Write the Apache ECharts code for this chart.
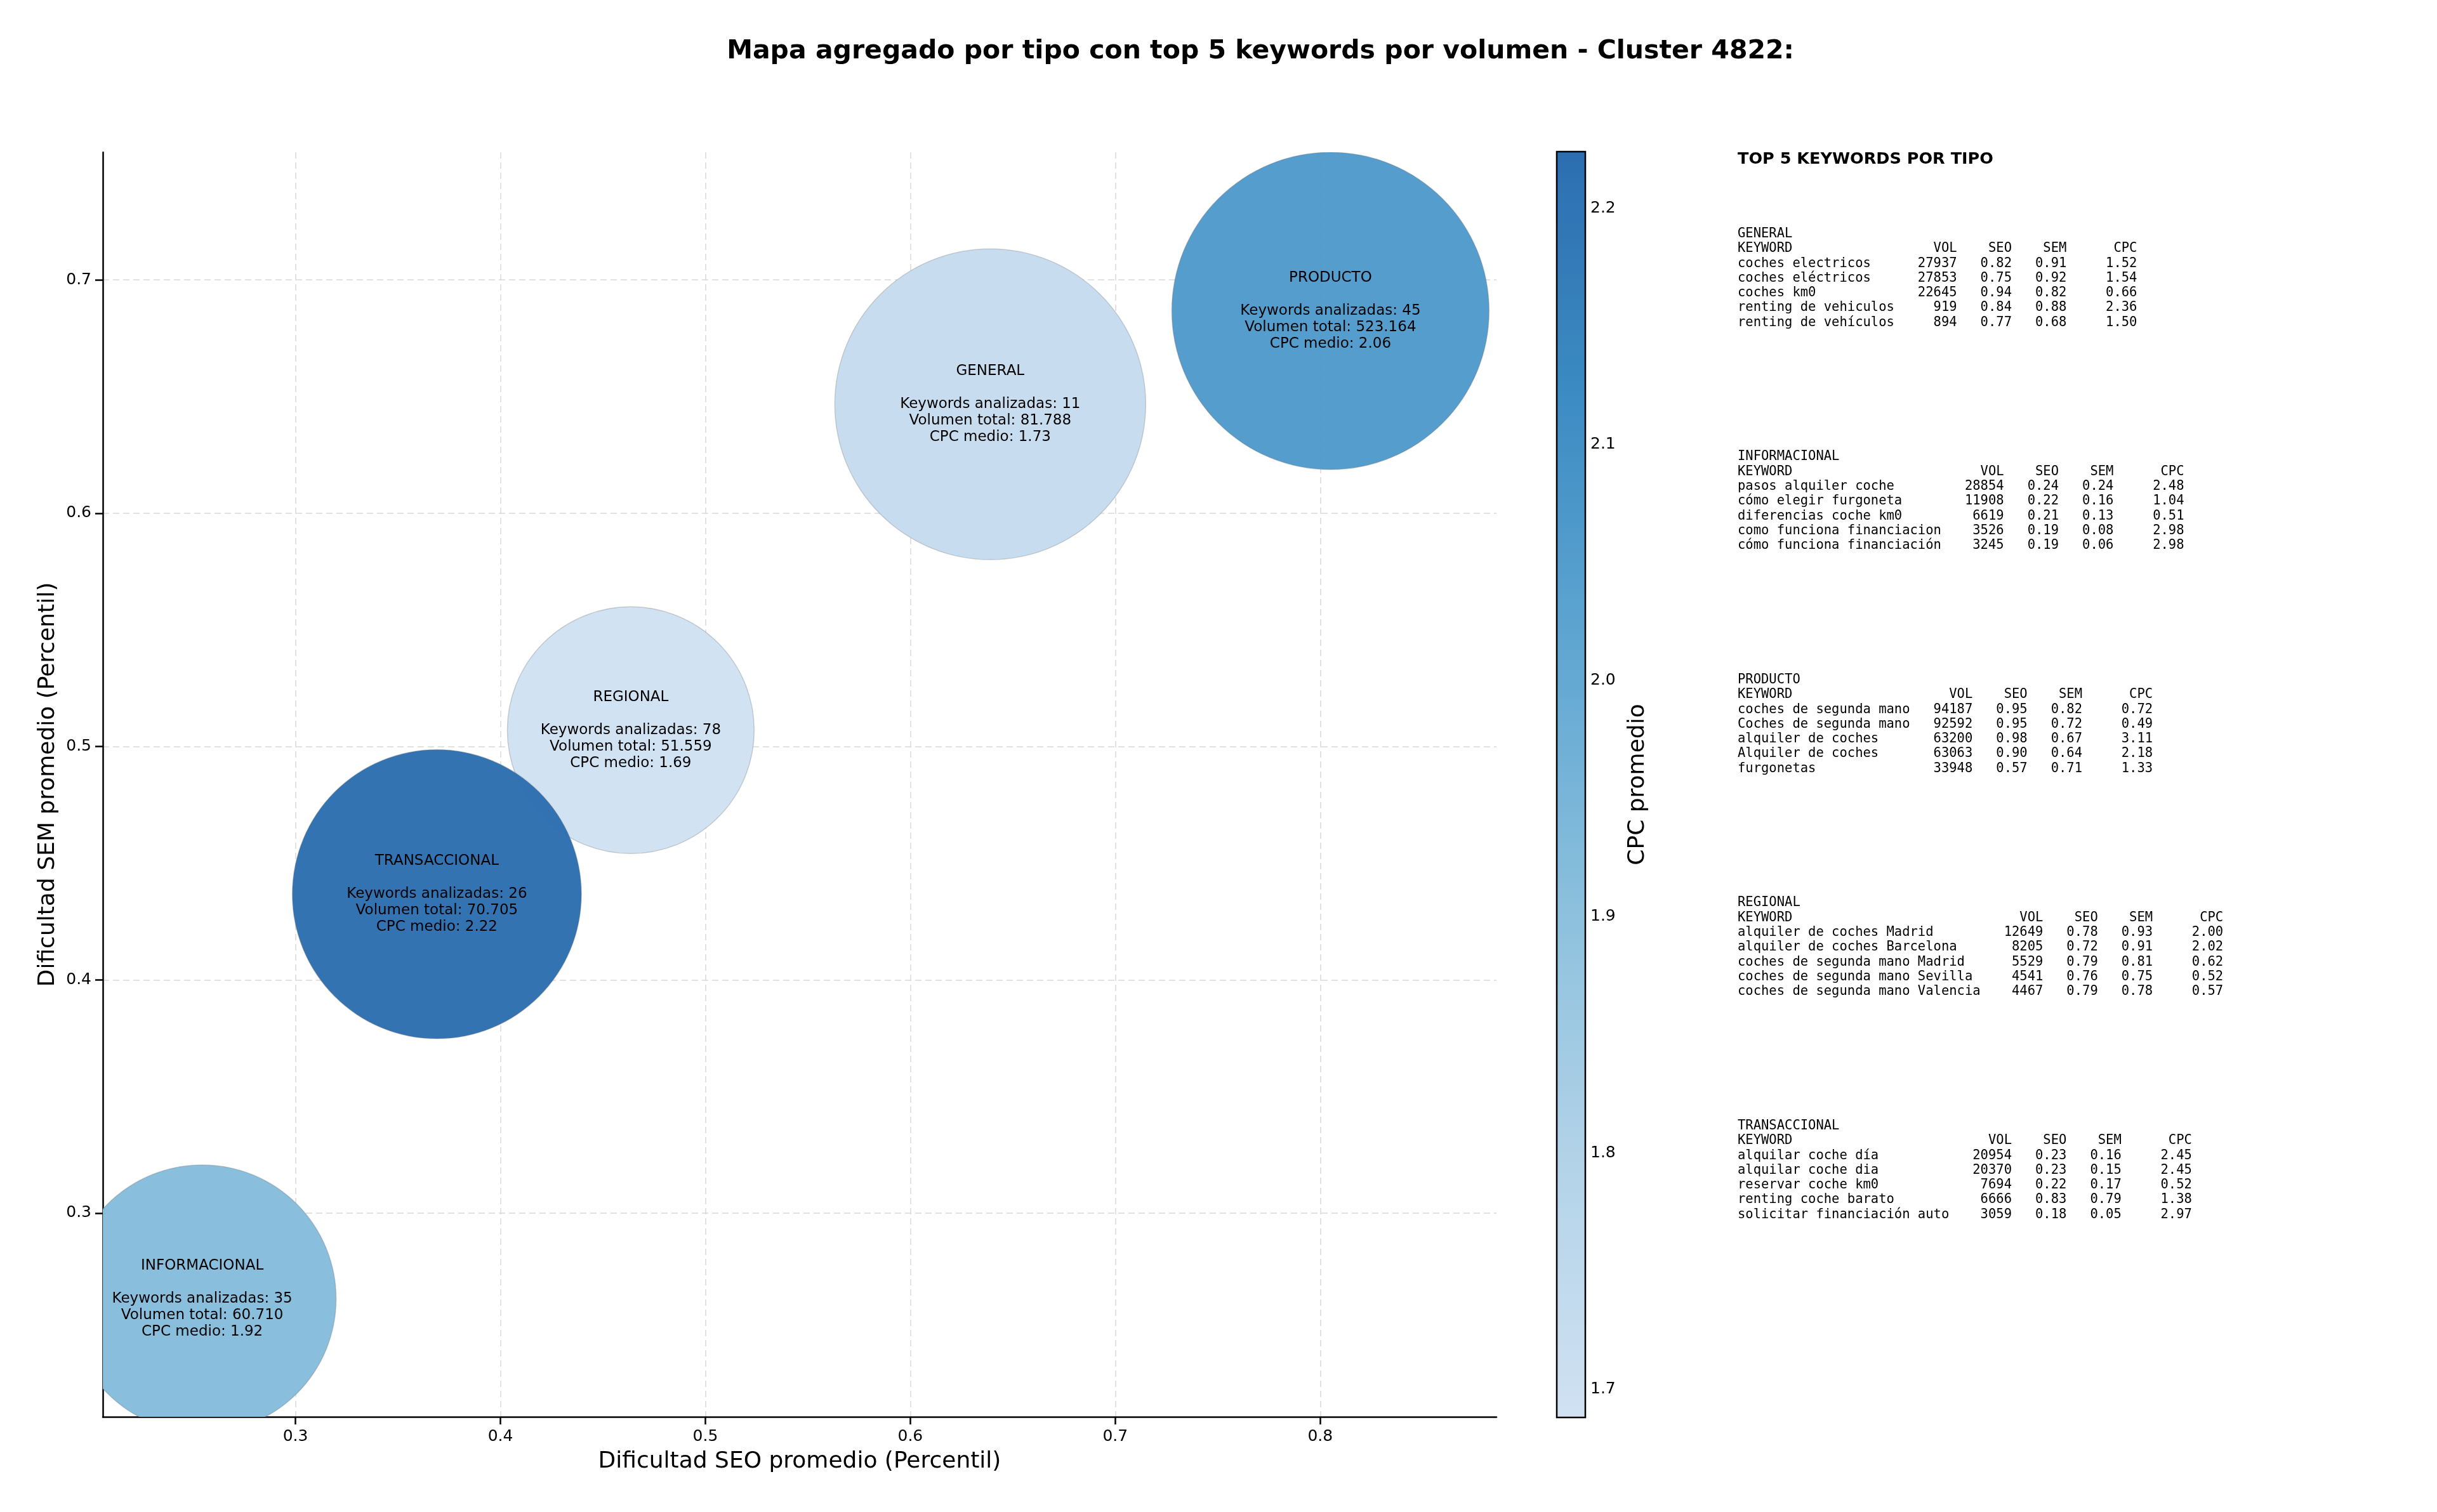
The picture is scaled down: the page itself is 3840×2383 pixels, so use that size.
<!DOCTYPE html>
<html>
<head>
<meta charset="utf-8">
<script src="https://cdn.jsdelivr.net/npm/echarts@6/dist/echarts.min.js"></script>
<style>
  html, body { margin: 0; padding: 0; background: #fff; }
  #master { width: 3840px; height: 2383px; }
</style>
</head>
<body>
<div id="master"></div>
<script>
// datos agregados por tipo
const tipos = ['GENERAL', 'INFORMACIONAL', 'PRODUCTO', 'REGIONAL', 'TRANSACCIONAL'];
const seoMedio = [0.639, 0.2545, 0.805, 0.4636, 0.369];
const semMedio = [0.6467, 0.2633, 0.6867, 0.507, 0.4367];
const cpcMedio = [1.73, 1.92, 2.06, 1.688, 2.224];
const volTotal = [81788, 60710, 523164, 51559, 70705];
const numKeywords = [11, 35, 45, 78, 26];

const xTicks = [0.3, 0.4, 0.5, 0.6, 0.7, 0.8];
const yTicks = [0.3, 0.4, 0.5, 0.6, 0.7];
const cpcTicks = [1.7, 1.8, 1.9, 2.0, 2.1, 2.2];

// top 5 keywords: [keyword, vol, seo, sem, cpc]
const topGeneral = [
  ['coches electricos', 27937, 0.82, 0.91, 1.52],
  ['coches eléctricos', 27853, 0.75, 0.92, 1.54],
  ['coches km0', 22645, 0.94, 0.82, 0.66],
  ['renting de vehiculos', 919, 0.84, 0.88, 2.36],
  ['renting de vehículos', 894, 0.77, 0.68, 1.50]
];
const topInformacional = [
  ['pasos alquiler coche', 28854, 0.24, 0.24, 2.48],
  ['cómo elegir furgoneta', 11908, 0.22, 0.16, 1.04],
  ['diferencias coche km0', 6619, 0.21, 0.13, 0.51],
  ['como funciona financiacion', 3526, 0.19, 0.08, 2.98],
  ['cómo funciona financiación', 3245, 0.19, 0.06, 2.98]
];
const topProducto = [
  ['coches de segunda mano', 94187, 0.95, 0.82, 0.72],
  ['Coches de segunda mano', 92592, 0.95, 0.72, 0.49],
  ['alquiler de coches', 63200, 0.98, 0.67, 3.11],
  ['Alquiler de coches', 63063, 0.90, 0.64, 2.18],
  ['furgonetas', 33948, 0.57, 0.71, 1.33]
];
const topRegional = [
  ['alquiler de coches Madrid', 12649, 0.78, 0.93, 2.00],
  ['alquiler de coches Barcelona', 8205, 0.72, 0.91, 2.02],
  ['coches de segunda mano Madrid', 5529, 0.79, 0.81, 0.62],
  ['coches de segunda mano Sevilla', 4541, 0.76, 0.75, 0.52],
  ['coches de segunda mano Valencia', 4467, 0.79, 0.78, 0.57]
];
const topTransaccional = [
  ['alquilar coche día', 20954, 0.23, 0.16, 2.45],
  ['alquilar coche dia', 20370, 0.23, 0.15, 2.45],
  ['reservar coche km0', 7694, 0.22, 0.17, 0.52],
  ['renting coche barato', 6666, 0.83, 0.79, 1.38],
  ['solicitar financiación auto', 3059, 0.18, 0.05, 2.97]
];
const topPorTipo = [topGeneral, topInformacional, topProducto, topRegional, topTransaccional];

const FONT = '"DejaVu Sans", sans-serif';
const MONO = '"DejaVu Sans Mono", monospace';

function fmtVol(v) {
  return String(v).replace(/\B(?=(\d{3})+(?!\d))/g, '.');
}

// tamaño de burbuja segun volumen (con tope)
function bubbleSize(vol) {
  return Math.min(Math.sqrt(vol) * 1.713, 500);
}

function buildBlock(tipo, rows) {
  const w = Math.max(...rows.map(r => r[0].length));
  const lines = [tipo,
    'KEYWORD'.padEnd(w) + 'VOL'.padStart(8) + 'SEO'.padStart(7) + 'SEM'.padStart(7) + 'CPC'.padStart(9)];
  rows.forEach(r => {
    lines.push(r[0].padEnd(w) + String(r[1]).padStart(8) + r[2].toFixed(2).padStart(7) +
      r[3].toFixed(2).padStart(7) + r[4].toFixed(2).padStart(9));
  });
  return lines.join('\n');
}

const bubbleData = tipos.map((t, i) => [seoMedio[i], semMedio[i], cpcMedio[i], volTotal[i], numKeywords[i]]);

const graphics = [
  {
    type: 'text', x: 1986, y: 81,
    style: {
      text: 'Mapa agregado por tipo con top 5 keywords por volumen - Cluster 4822:',
      fontSize: 41, fontWeight: 'bold', fontFamily: FONT, fill: '#000',
      align: 'center', verticalAlign: 'middle'
    }
  },
  {
    type: 'text', x: 2738, y: 251,
    style: {
      text: 'TOP 5 KEYWORDS POR TIPO', fontSize: 25.5, fontWeight: 'bold', fontFamily: FONT,
      fill: '#000', align: 'left', verticalAlign: 'middle'
    }
  }
];
tipos.forEach((t, i) => {
  graphics.push({
    type: 'text', x: 2738, y: 357 + i * 351.5,
    style: {
      text: buildBlock(t, topPorTipo[i]), fontSize: 20.5, lineHeight: 23.3, fontFamily: MONO,
      fill: '#000', align: 'left', verticalAlign: 'top'
    }
  });
});

const chart = echarts.init(document.getElementById('master'));
const option = {
  backgroundColor: '#fff',
  animation: false,
  textStyle: { fontFamily: FONT },
  graphic: graphics,
  grid: [
    { left: 162, top: 240, width: 2196, height: 1993 },
    { left: 2453, top: 239, width: 45, height: 1995, show: true, z: 10,
      borderColor: '#000', borderWidth: 2.5, backgroundColor: 'transparent' }
  ],
  xAxis: [
    {
      type: 'value', gridIndex: 0, min: 0.206, max: 0.886,
      name: 'Dificultad SEO promedio (Percentil)', nameLocation: 'middle', nameGap: 53,
      nameTextStyle: { fontSize: 36, color: '#000', fontFamily: FONT },
      axisLine: { show: true, onZero: false, lineStyle: { color: '#000', width: 2.5 } },
      axisTick: { show: true, customValues: xTicks, length: 12, lineStyle: { color: '#000', width: 2.5 } },
      axisLabel: { customValues: xTicks, fontSize: 25, color: '#000', margin: 19, formatter: v => v.toFixed(1) },
      splitLine: { show: true, lineStyle: { color: '#d9d9d9', width: 1.5, type: [10, 6] } }
    },
    { type: 'value', gridIndex: 1, min: 0, max: 1, show: false }
  ],
  yAxis: [
    {
      type: 'value', gridIndex: 0, min: 0.2127, max: 0.7547,
      name: 'Dificultad SEM promedio (Percentil)', nameLocation: 'middle', nameGap: 68, nameRotate: 90,
      nameTextStyle: { fontSize: 36, color: '#000', fontFamily: FONT },
      axisLine: { show: true, onZero: false, lineStyle: { color: '#000', width: 2.5 } },
      axisTick: { show: true, customValues: yTicks, length: 12, lineStyle: { color: '#000', width: 2.5 } },
      axisLabel: { customValues: yTicks, fontSize: 25, color: '#000', margin: 18, formatter: v => v.toFixed(1) },
      splitLine: { show: true, lineStyle: { color: '#d9d9d9', width: 1.5, type: [10, 6] } }
    },
    {
      type: 'value', gridIndex: 1, position: 'right',
      min: Math.min(...cpcMedio), max: Math.max(...cpcMedio),
      name: 'CPC promedio', nameLocation: 'middle', nameGap: 65, nameRotate: 90,
      nameTextStyle: { fontSize: 36, color: '#000', fontFamily: FONT },
      axisLine: { show: false },
      axisTick: { show: true, customValues: cpcTicks, length: 10, lineStyle: { color: '#000', width: 2.5 } },
      axisLabel: { customValues: cpcTicks, fontSize: 25, color: '#000', margin: 8, formatter: v => v.toFixed(1) },
      splitLine: { show: false }
    }
  ],
  visualMap: {
    type: 'continuous',
    seriesIndex: 0,
    dimension: 2,
    min: Math.min(...cpcMedio),
    max: Math.max(...cpcMedio),
    orient: 'vertical',
    left: 2453, top: 239,
    itemWidth: 45, itemHeight: 1995,
    padding: 0,
    calculable: false,
    hoverLink: false,
    text: null,
    inRange: { color: ['#d0e1f2', '#b3d3e8', '#8cc0dd', '#61a7d2', '#3d8cc3', '#2c6eb0'] }
  },
  series: [
    {
      type: 'custom',
      coordinateSystem: 'cartesian2d',
      xAxisIndex: 0, yAxisIndex: 0,
      clip: true,
      encode: { x: 0, y: 1 },
      data: bubbleData,
      renderItem: function (params, api) {
        const i = params.dataIndex;
        const c = api.coord([api.value(0), api.value(1)]);
        const r = bubbleSize(api.value(3)) / 2;
        const label = tipos[i] + '\n\nKeywords analizadas: ' + numKeywords[i] +
          '\nVolumen total: ' + fmtVol(volTotal[i]) + '\nCPC medio: ' + cpcMedio[i].toFixed(2);
        return {
          type: 'group',
          children: [
            {
              type: 'circle',
              shape: { cx: c[0], cy: c[1], r: r },
              style: { fill: api.visual('color'), opacity: 0.97, stroke: 'rgba(110,110,110,0.3)', lineWidth: 1.5 }
            },
            {
              type: 'text', x: c[0], y: c[1],
              style: {
                text: label, fontSize: 23, lineHeight: 26, fontFamily: FONT, fill: '#000',
                align: 'center', verticalAlign: 'middle'
              }
            }
          ]
        };
      }
    }
  ]
};
chart.setOption(option);
</script>
</body>
</html>
